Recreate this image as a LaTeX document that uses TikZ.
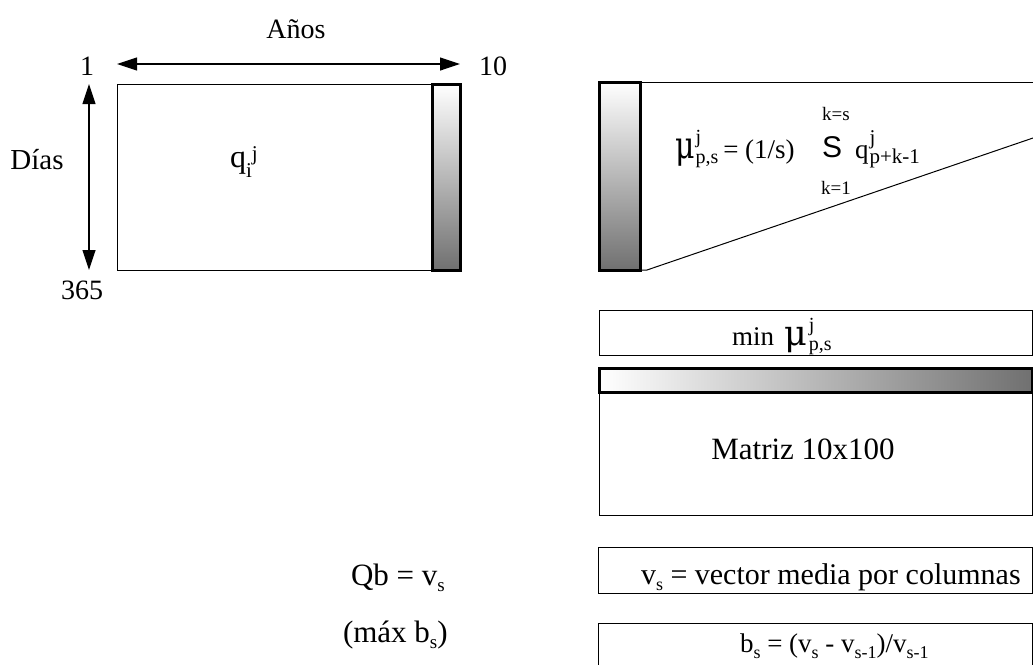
\documentclass[tikz,border=0pt]{standalone}
\usepackage{fontspec}
\setmainfont{Liberation Serif}
\newfontfamily\sansS{Liberation Sans}
\newfontfamily\mufont{DejaVu Serif}
\usetikzlibrary{arrows.meta}
\newcommand\fs[1]{\fontsize{#1}{#1}\selectfont}
\newcommand\supsubx[5]{\makebox[0pt][l]{\raisebox{#1}{\fs{#3}#4}}\raisebox{#2}{\fs{#3}#5}}
\newcommand\lowsub[2][18]{\raisebox{-6pt}{\fs{#1}#2}}
\begin{document}
\begin{tikzpicture}[x=1pt,y=-1pt,
  boxthin/.style={draw=black, line width=1pt, inner sep=0pt, outer sep=0pt, anchor=north west},
  stripv/.style={draw=black, line width=3pt, inner sep=0pt, outer sep=0pt, anchor=north west, top color=white, bottom color=black!56},
  striph/.style={draw=black, line width=3pt, inner sep=0pt, outer sep=0pt, anchor=north west, left color=white, right color=black!56},
  lbl/.style={inner sep=0pt, outer sep=0pt},
  txt/.style={inner sep=0pt, outer sep=0pt, anchor=base west},
  dblarrow/.style={line width=1.2pt, {Triangle[length=20pt,width=13pt]}-{Triangle[length=20pt,width=13pt]}},
  thinline/.style={line width=1pt}
]
\useasboundingbox (0,0) rectangle (1033,664);

% left matrix
\node[boxthin, minimum width=343pt, minimum height=186pt] (mat) at (117,84) {};
\node[stripv, minimum width=28pt, minimum height=186pt] (colL) at (432,84) {};
\node[lbl, anchor=base west] (qij) at (230,167) {\fs{32}q\raisebox{-10pt}{\fs{21}i}\raisebox{7pt}{\fs{21}j}};

% arrows and labels
\coordinate (hA) at (117,64);
\coordinate (hB) at (460,64);
\draw[dblarrow] (hA) -- (hB);
\coordinate (vA) at (89,84);
\coordinate (vB) at (89,270);
\draw[dblarrow] (vA) -- (vB);
\node[lbl, font=\fs{28}] (anos) at (296,29) {Años};
\node[lbl, font=\fs{28}] (one) at (87,66) {1};
\node[lbl, font=\fs{28}] (ten) at (493,66) {10};
\node[lbl, font=\fs{29}] (dias) at (37,160) {Días};
\node[lbl, font=\fs{28}] (d365) at (82,290) {365};

% right trapezoid
\node[stripv, minimum width=41pt, minimum height=188pt] (colR) at (599,82) {};
\coordinate (trTop) at (1033,82);
\coordinate (trKnee) at (647,270);
\coordinate (trBot) at (1033,138);
\draw[thinline] (colR.north east) -- (trTop);
\draw[thinline] (colR.south east) -- (trKnee) -- (trBot);

% formula
\node[txt] (mu) at (675,158) {\scalebox{1}[1.25]{\mufont\fs{30}μ}\hspace{1pt}\supsubx{15pt}{-5pt}{20}{j}{p,s}\hspace{5pt}{\fs{27}= (1/s)}};
\node[lbl, anchor=base] (sumS) at (832,157) {\sansS\fs{30}S};
\node[lbl, font=\fs{19}] (ktop) at (836,114) {k=s};
\node[lbl, font=\fs{19}] (kbot) at (836,188) {k=1};
\node[txt] (qterm) at (855,158) {\fs{27}q\hspace{1pt}\supsubx{14pt}{-5pt}{21}{j}{p+k-1}};

% min box
\node[boxthin, minimum width=433pt, minimum height=45pt] (minbox) at (599,310) {};
\node[txt] (mintxt) at (732,345) {\fs{27}min\hspace{10pt}{\mufont\fs{35}μ}\hspace{2pt}\supsubx{14pt}{-5pt}{20}{j}{p,s}};

% matrix 10x100
\node[striph, minimum width=433pt, minimum height=24pt] (bar) at (599,368) {};
\node[boxthin, minimum width=433pt, minimum height=123pt] (mbox) at (599,392) {};
\node[lbl, font=\fs{31}] (mtxt) at (803,449) {Matriz 10x100};

% bottom
\node[boxthin, minimum width=434pt, minimum height=46pt] (vbox) at (598,547) {};
\node[txt] (vtxt) at (641,584) {\fs{30}v\lowsub{s} = vector media por columnas};
\node[txt] (qbtxt) at (351,585) {\fs{31}Qb = v\lowsub[19]{s}};
\node[boxthin, minimum width=434pt, minimum height=60pt] (bbox) at (598,623) {};
\node[txt] (btxt) at (740,652) {\fs{27}b\lowsub{s} = (v\lowsub{s} - v\lowsub{s-1})/v\lowsub{s-1}};
\node[txt] (maxtxt) at (343,642) {\fs{31}(máx b\lowsub[19]{s})};
\end{tikzpicture}
\end{document}
